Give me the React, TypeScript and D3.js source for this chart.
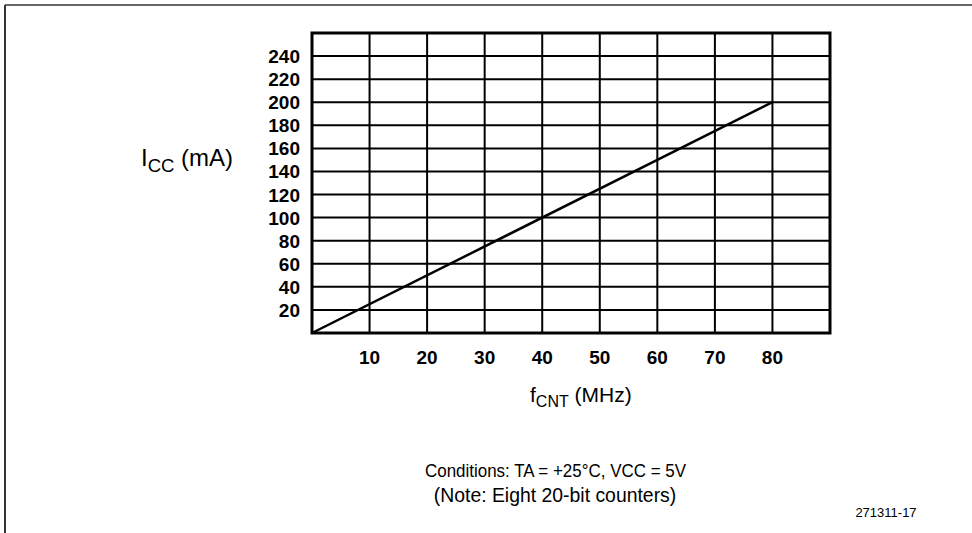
import React from "react";
import * as d3 from "d3";

const freqMHz = [0, 80];
const iccMA = [0, 200];
const xTicks = [10, 20, 30, 40, 50, 60, 70, 80];
const yTicks = [20, 40, 60, 80, 100, 120, 140, 160, 180, 200, 220, 240];
const xGrid = [10, 20, 30, 40, 50, 60, 70, 80];
const yGrid = [20, 40, 60, 80, 100, 120, 140, 160, 180, 200, 220, 240];
const figureId = "271311-17";
const conditionsText = "Conditions: TA = +25°C, VCC = 5V";
const noteText = "(Note: Eight 20-bit counters)";

const W = 972;
const H = 533;
const plot = { left: 312, right: 830, top: 33, bottom: 333 };
const FONT = "'Liberation Sans', Arial, Helvetica, sans-serif";

export default function App() {
  const x = d3.scaleLinear().domain([0, 90]).range([plot.left, plot.right]);
  const y = d3.scaleLinear().domain([0, 260]).range([plot.bottom, plot.top]);
  const pts = freqMHz.map((f, i) => [f, iccMA[i]] as [number, number]);
  const line = d3
    .line<[number, number]>()
    .x((d) => x(d[0]))
    .y((d) => y(d[1]));

  return (
    <svg
      width={W}
      height={H}
      style={{ position: "absolute", left: 0, top: 0, background: "#fff" }}
      fontFamily={FONT}
    >
      <rect x={0} y={0} width={W} height={H} fill="#fff" />
      {/* page border */}
      <line x1={5} y1={5} x2={W} y2={5} stroke="#333" strokeWidth={1.5} />
      <line x1={5} y1={5} x2={5} y2={H} stroke="#333" strokeWidth={2} />

      {/* grid */}
      {xGrid.map((v) => (
        <line key={"gx" + v} x1={x(v)} x2={x(v)} y1={plot.top} y2={plot.bottom} stroke="#000" strokeWidth={2} />
      ))}
      {yGrid.map((v) => (
        <line key={"gy" + v} x1={plot.left} x2={plot.right} y1={y(v)} y2={y(v)} stroke="#000" strokeWidth={2} />
      ))}
      <rect
        x={plot.left}
        y={plot.top}
        width={plot.right - plot.left}
        height={plot.bottom - plot.top}
        fill="none"
        stroke="#000"
        strokeWidth={3}
      />

      {/* data line */}
      <path d={line(pts) || ""} fill="none" stroke="#000" strokeWidth={2.5} />

      {/* y tick labels */}
      {yTicks.map((v) => (
        <text key={"ty" + v} x={300} y={y(v) + 7} textAnchor="end" fontSize={19} fontWeight="bold" fill="#000">
          {v}
        </text>
      ))}
      {/* x tick labels */}
      {xTicks.map((v) => (
        <text key={"tx" + v} x={x(v)} y={364} textAnchor="middle" fontSize={19} fontWeight="bold" fill="#000">
          {v}
        </text>
      ))}

      {/* y axis title */}
      <text x={141} y={166} fontSize={24} fill="#000">
        <tspan>I</tspan>
        <tspan fontSize={18.5} dy={6}>CC</tspan>
        <tspan dy={-6}> (mA)</tspan>
      </text>

      {/* x axis title */}
      <text x={530} y={402} fontSize={21} fill="#000">
        <tspan>f</tspan>
        <tspan fontSize={16} dy={5}>CNT</tspan>
        <tspan dy={-5}> (MHz)</tspan>
      </text>

      <text
        x={425}
        y={477}
        fontSize={18.5}
        textLength={261}
        lengthAdjust="spacingAndGlyphs"
        fill="#000"
      >
        {conditionsText}
      </text>
      <text x={555} y={502} textAnchor="middle" fontSize={19.4} fill="#000">
        {noteText}
      </text>
      <text x={886} y={517} textAnchor="middle" fontSize={13} fill="#000">
        {figureId}
      </text>
    </svg>
  );
}
